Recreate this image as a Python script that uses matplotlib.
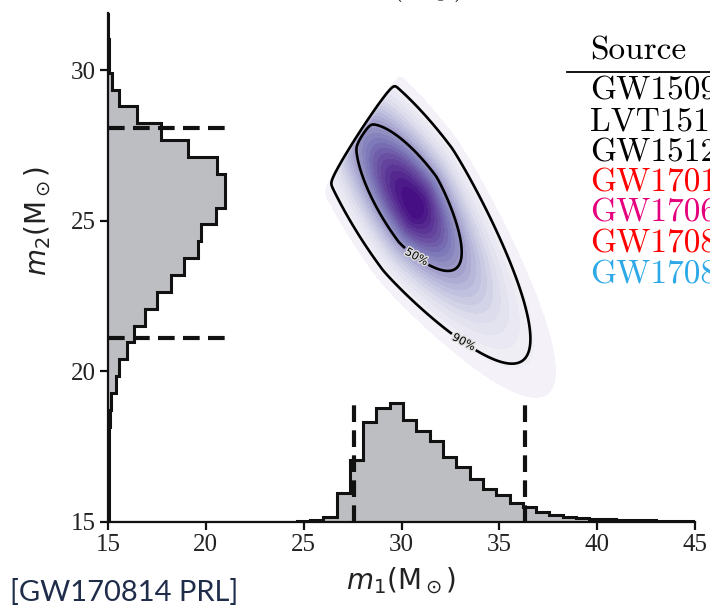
import numpy as np
import matplotlib
matplotlib.use("Agg")
import matplotlib.pyplot as plt
import matplotlib.patheffects as pe

# marginal histogram of the primary mass (bin heights above m2 = 15)
m1_edge0 = 15.12
m1_bin = 0.68
m1_hist = [0.0, 0.0, 0.0, 0.0, 0.0, 0.0, 0.0, 0.0, 0.0, 0.0,
           0.01, 0.01, 0.01, 0.01, 0.02, 0.06, 0.18, 0.95, 2.06, 3.33,
           3.77, 3.94, 3.39, 3.03, 2.70, 2.17, 1.82, 1.42, 1.09, 0.90,
           0.62, 0.51, 0.34, 0.23, 0.18, 0.14, 0.11, 0.09, 0.07, 0.06,
           0.05, 0.04, 0.03, 0.03]

# marginal histogram of the secondary mass (bin widths right of m1 = 15)
m2_edge0 = 14.8
m2_bin = 0.56
m2_hist = [0.03, 0.03, 0.03, 0.04, 0.04, 0.06, 0.09, 0.16, 0.40, 0.58,
           0.98, 1.33, 1.89, 2.52, 3.22, 3.88, 4.62, 4.74, 5.52, 5.98,
           5.98, 5.55, 4.10, 2.71, 1.47, 0.58, 0.19, 0.06, 0.03, 0.02,
           0.02, 0.02]

# 90% credible bounds of each marginal
m1_bounds = [27.55, 36.3]
m2_bounds = [21.1, 28.07]

# joint posterior shape (mode, then the m1 >= m2 cut)
peak = (30.8, 25.4)
axis_angle = -41.0
spread_along = (3.4, 2.25)    # towards equal masses / towards unequal
power_along = (2.0, 1.28)
spread_across = 1.25
credible = [0.5, 0.9]

sources = ["GW150914", "LVT151012", "GW151226", "GW170104",
           "GW170608", "GW170814", "GW170817"]
source_colors = ["black", "black", "black", "#ff0000",
                 "#e5007d", "#ff0000", "#2ea9e8"]

fig = plt.figure(figsize=(7.10, 6.11), dpi=100)
ax = fig.add_axes([0.152, 0.1457, 0.827, 0.833])

# joint density on a grid, cut at m1 = m2
g1, g2 = np.meshgrid(np.linspace(23, 45, 440), np.linspace(16, 32, 320))
a = np.deg2rad(axis_angle)
u = (g1 - peak[0]) * np.cos(a) + (g2 - peak[1]) * np.sin(a)
v = -(g1 - peak[0]) * np.sin(a) + (g2 - peak[1]) * np.cos(a)
su = np.where(u < 0, spread_along[0], spread_along[1])
pu = np.where(u < 0, power_along[0], power_along[1])
dens = np.exp(-0.5 * (v / spread_across) ** 2 - 0.5 * np.abs(u / su) ** pu)
dens *= 1.0 / (1.0 + np.exp(-(g1 - g2) / 0.06))

flat = np.sort(dens.ravel())[::-1]
cum = np.cumsum(flat) / flat.sum()
lvl = {c: flat[np.searchsorted(cum, c)] for c in credible}

fill_levels = np.linspace(dens.max() * 0.05, dens.max(), 24)
fill_colors = plt.cm.Purples(np.linspace(0.08, 0.95, len(fill_levels) - 1))
ax.contourf(g1, g2, dens, levels=fill_levels, colors=fill_colors, zorder=1)
cs = ax.contour(g1, g2, dens, levels=[lvl[0.9], lvl[0.5]], colors="black",
                linewidths=1.9, zorder=2)
labels = ax.clabel(cs, fmt={lvl[0.9]: "90%", lvl[0.5]: "50%"}, fontsize=8,
                   inline=True, inline_spacing=6,
                   manual=[(33.2, 21.0), (30.7, 23.7)])
for t in labels:
    t.set_path_effects([pe.withStroke(linewidth=2, foreground="#dddddd")])

# marginal histograms
gray = "#bdbec2"
m1_edges = m1_edge0 + m1_bin * np.arange(len(m1_hist) + 1)
m2_edges = m2_edge0 + m2_bin * np.arange(len(m2_hist) + 1)
m1_top = 15 + np.array(m1_hist)
m2_top = 15 + np.array(m2_hist)
ax.stairs(m1_top, m1_edges, baseline=15, fill=True, color=gray, zorder=3)
ax.stairs(m1_top, m1_edges, baseline=None, color="#111111", lw=2.2, zorder=4)
ax.stairs(m2_top, m2_edges, baseline=15, fill=True, color=gray,
          orientation="horizontal", zorder=3)
ax.stairs(m2_top, m2_edges, baseline=None, color="#111111", lw=2.2,
          orientation="horizontal", zorder=4)

dash = dict(color="#111111", lw=3.0, dashes=(4.0, 2.0), zorder=5)
for b in m1_bounds:
    ax.plot([b, b], [15, 15 + max(m1_hist) * 0.99], **dash)
for b in m2_bounds:
    ax.plot([15, 15 + max(m2_hist) * 1.02], [b, b], **dash)

ax.set_xlim(15, 45)
ax.set_ylim(15, 31.9)
ax.set_xticks([15, 20, 25, 30, 35, 40, 45])
ax.set_yticks([15, 20, 25, 30])
for s in ["top", "right"]:
    ax.spines[s].set_visible(False)
for s in ["left", "bottom"]:
    ax.spines[s].set_linewidth(1.6)
    ax.spines[s].set_color("#111111")
    ax.spines[s].set_zorder(6)
ax.tick_params(direction="out", length=6, width=1.6, color="#111111",
               labelsize=18, pad=3)
for t in ax.get_xticklabels() + ax.get_yticklabels():
    t.set_fontfamily("Liberation Serif")
    t.set_color("#222222")

ax.set_xlabel(r"$m_1$(M$_\odot$)", fontsize=20, color="#222222")
ax.set_ylabel(r"$m_2$(M$_\odot$)", fontsize=20, color="#222222")
ax.xaxis.set_label_coords(0.5, -0.086)
ax.yaxis.set_label_coords(-0.094, 0.592)

# axis label of the panel above, cut by the top edge
fig.text(0.577, 1.008, r"$m_1(\mathrm{M}_\odot)$", fontsize=20,
         ha="center", va="baseline", math_fontfamily="cm")

# source table
fig.text(0.831, 1 - 59 / 611, "Source", family="cmr10", fontsize=24,
         va="baseline")
fig.add_artist(plt.Line2D([0.799, 1.0], [1 - 72 / 611] * 2,
                          color="black", lw=1.3))
for i, (name, col) in enumerate(zip(sources, source_colors)):
    fig.text(0.831, 1 - (100 + 30.5 * i) / 611, name, family="cmr10",
             fontsize=24, color=col, va="baseline")

fig.text(0.014, 0.016, "[GW170814 PRL]", family="Lato", fontsize=21,
         color="#1f2d4a", va="baseline")

fig.savefig("out.png", dpi=100)
